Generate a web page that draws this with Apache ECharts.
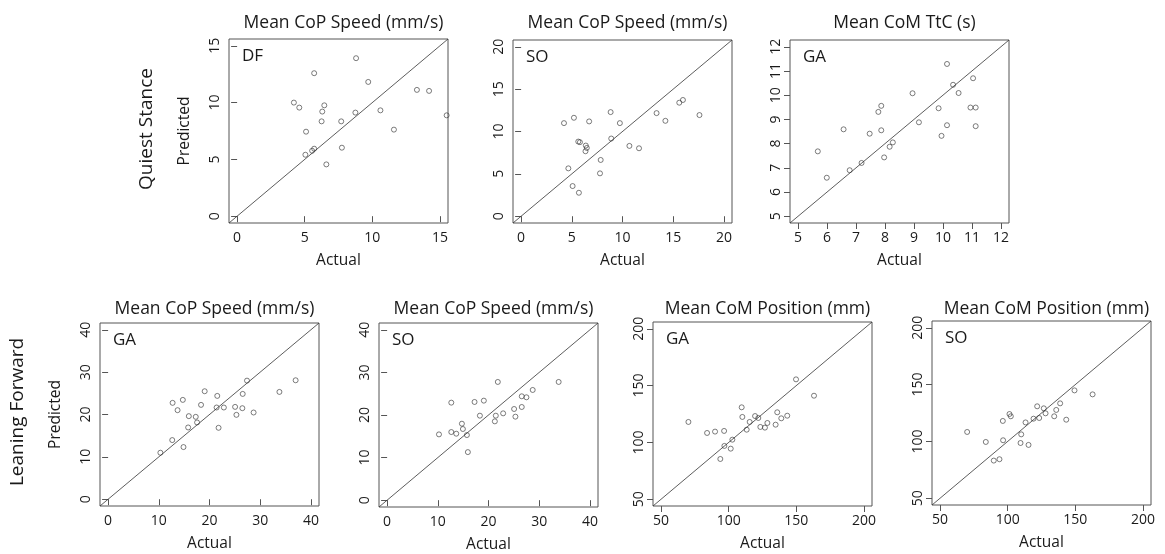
<!DOCTYPE html>
<html>
<head>
<meta charset="utf-8">
<script src="https://cdn.jsdelivr.net/npm/echarts@6/dist/echarts.min.js"></script>
<style>
html,body{margin:0;padding:0;background:#fff;}
#chart{width:1165px;height:554px;}
</style>
</head>
<body>
<div id="chart"></div>
<script>
// ---------- data ----------
// Quiet stance, DF, Mean CoP Speed (mm/s)
const dfActual = [4.2, 4.6, 5.1, 5.05, 5.55, 5.7, 5.7, 6.25, 6.3, 6.45, 6.6, 7.7, 7.75, 8.8, 8.75, 9.7, 10.6, 11.6, 13.3, 14.2, 15.5];
const dfPred   = [10.0, 9.56, 7.44, 5.41, 5.76, 5.94, 12.59, 8.35, 9.21, 9.76, 4.56, 8.35, 6.03, 13.91, 9.12, 11.82, 9.32, 7.62, 11.12, 11.03, 8.88];
// Quiet stance, SO, Mean CoP Speed (mm/s)
const soQsActual = [4.23, 4.66, 5.21, 5.08, 5.64, 5.80, 5.70, 6.38, 6.48, 6.35, 6.71, 7.85, 7.78, 8.83, 8.89, 9.74, 10.68, 11.63, 13.36, 14.23, 15.60, 15.96, 17.59];
const soQsPred   = [10.99, 5.65, 11.62, 3.56, 8.81, 8.74, 2.77, 8.34, 8.06, 7.67, 11.19, 6.64, 5.06, 12.29, 9.17, 10.99, 8.30, 8.02, 12.17, 11.26, 13.40, 13.72, 11.94];
// Quiet stance, GA, Mean CoM TtC (s)
const gaTtcActual = [5.68, 5.99, 6.57, 6.78, 7.19, 7.47, 7.77, 7.87, 7.87, 7.97, 8.16, 8.27, 8.95, 9.17, 9.85, 9.95, 10.14, 10.14, 10.35, 10.54, 10.95, 11.04, 11.13, 11.13];
const gaTtcPred   = [7.68, 6.59, 8.59, 6.90, 7.20, 8.41, 9.31, 9.56, 8.55, 7.43, 7.87, 8.05, 10.08, 8.88, 9.46, 8.32, 8.76, 11.29, 10.43, 10.09, 9.49, 10.70, 9.49, 8.72];
// Leaning forward, GA, Mean CoP Speed (mm/s)
const gaLfActual = [10.31, 12.65, 12.72, 13.70, 14.74, 14.87, 15.79, 15.92, 17.29, 17.55, 18.33, 19.05, 21.40, 21.53, 21.79, 22.83, 25.05, 25.31, 26.48, 26.55, 27.40, 28.70, 33.79, 36.99];
const gaLfPred   = [10.98, 13.96, 22.75, 21.02, 23.45, 12.31, 16.94, 19.61, 19.45, 18.12, 22.27, 25.49, 21.65, 24.39, 16.86, 21.65, 21.80, 19.92, 21.49, 24.86, 28.00, 20.47, 25.33, 28.08];
// Leaning forward, SO, Mean CoP Speed (mm/s)
const soLfActual = [10.23, 12.66, 12.66, 13.64, 14.75, 14.95, 15.74, 15.93, 17.25, 18.30, 19.08, 21.25, 21.44, 21.84, 22.89, 25.05, 25.31, 26.56, 26.56, 27.48, 28.72, 33.84];
const soLfPred   = [15.45, 22.90, 16.00, 15.61, 17.96, 16.71, 15.29, 11.29, 23.06, 19.84, 23.37, 18.51, 19.84, 27.76, 20.39, 21.41, 19.61, 21.88, 24.39, 24.16, 25.88, 27.76];
// Leaning forward, GA, Mean CoM Position (mm)
const gaComActual = [70.2, 84.0, 89.9, 96.6, 96.8, 93.8, 101.5, 102.7, 109.6, 110.1, 113.3, 115.5, 119.5, 121.9, 123.4, 126.8, 128.6, 134.7, 135.9, 138.9, 143.3, 149.8, 163.1];
const gaComPred   = [118.0, 108.3, 109.5, 110.1, 96.9, 85.4, 94.5, 102.4, 130.9, 122.4, 111.2, 118.0, 123.2, 121.5, 113.6, 113.0, 117.1, 115.6, 126.5, 121.2, 123.5, 155.5, 141.1];
// Leaning forward, SO, Mean CoM Position (mm)
const soComActual = [70.0, 83.8, 89.7, 93.9, 96.4, 96.6, 101.3, 102.3, 109.5, 110.0, 113.2, 115.4, 119.1, 121.8, 123.3, 126.7, 128.0, 134.4, 135.9, 138.8, 143.3, 149.4, 162.8];
const soComPred   = [108.3, 99.5, 83.1, 84.3, 118.0, 101.0, 124.1, 122.1, 98.6, 106.2, 116.7, 96.9, 120.0, 130.9, 120.6, 129.1, 124.7, 122.1, 127.7, 133.5, 119.1, 144.9, 141.4];

// tick labels
const ticksCop15 = [0, 5, 10, 15];
const ticksCop20 = [0, 5, 10, 15, 20];
const ticksTtc   = [5, 6, 7, 8, 9, 10, 11, 12];
const ticksCop40 = [0, 10, 20, 30, 40];
const ticksCom   = [50, 100, 150, 200];

// titles / labels
const panelTitles = ['Mean CoP Speed (mm/s)', 'Mean CoP Speed (mm/s)', 'Mean CoM TtC (s)', 'Mean CoP Speed (mm/s)', 'Mean CoP Speed (mm/s)', 'Mean CoM Position (mm)', 'Mean CoM Position (mm)'];
const panelTags = ['DF', 'SO', 'GA', 'GA', 'SO', 'GA', 'SO'];
const rowLabels = ['Quiest Stance', 'Leaning Forward'];
const xName = 'Actual';
const yName = 'Predicted';

// ---------- layout ----------
const boxes = [
  {l: 229, t: 39,  w: 219, h: 184, tt: 30},
  {l: 513, t: 40,  w: 219, h: 183, tt: 31},
  {l: 790, t: 40,  w: 219, h: 183, tt: 31},
  {l: 100, t: 323, w: 219, h: 183, tt: 28},
  {l: 379, t: 323, w: 219, h: 184, tt: 28},
  {l: 653, t: 322, w: 219, h: 184, tt: 27},
  {l: 932, t: 321, w: 219, h: 184, tt: 26}
];
const panelData = [
  [dfActual, dfPred, ticksCop15],
  [soQsActual, soQsPred, ticksCop20],
  [gaTtcActual, gaTtcPred, ticksTtc],
  [gaLfActual, gaLfPred, ticksCop40],
  [soLfActual, soLfPred, ticksCop40],
  [gaComActual, gaComPred, ticksCom],
  [soComActual, soComPred, ticksCom]
];

const FONT = '"Open Sans", "Liberation Sans", sans-serif';
const INK = '#1a1a1a';
const GRAY = '#555';

const grid = [], xAxis = [], yAxis = [], series = [], title = [];

panelData.forEach((pd, i) => {
  const [ax, pr, ticks] = pd;
  const lo = ticks[0], hi = ticks[ticks.length - 1];
  const pad = (hi - lo) * 0.04;
  const mn = lo - pad, mx = hi + pad;
  const b = boxes[i];
  grid.push({
    left: b.l, top: b.t, width: b.w, height: b.h,
    show: true, borderColor: GRAY, borderWidth: 1, backgroundColor: 'transparent',
    outerBoundsMode: 'none', containLabel: false
  });
  const axisCommon = {
    type: 'value', gridIndex: i, min: mn, max: mx,
    splitLine: {show: false},
    axisLine: {show: false},
    axisTick: {show: true, inside: false, length: 6, customValues: ticks, lineStyle: {color: GRAY, width: 1}},
    axisLabel: {customValues: ticks, color: INK, fontFamily: FONT, fontSize: 14}
  };
  xAxis.push(Object.assign({}, axisCommon, {
    position: 'bottom',
    axisLabel: Object.assign({}, axisCommon.axisLabel, {margin: 8}),
    name: xName, nameLocation: 'middle', nameGap: 30,
    nameTextStyle: {color: INK, fontFamily: FONT, fontSize: 15.5}
  }));
  const yA = Object.assign({}, axisCommon, {
    position: 'left',
    axisLabel: Object.assign({}, axisCommon.axisLabel, {rotate: 90, margin: 7})
  });
  if (i === 0 || i === 3) {
    Object.assign(yA, {
      name: yName, nameLocation: 'middle', nameGap: 36, nameRotate: 90,
      nameTextStyle: {color: INK, fontFamily: FONT, fontSize: 15.5}
    });
  }
  yAxis.push(yA);
  // identity line through the axis range
  series.push({
    type: 'line', xAxisIndex: i, yAxisIndex: i, data: [[mn, mn], [mx, mx]],
    symbol: 'none', silent: true, clip: true,
    lineStyle: {color: '#333', width: 0.8}
  });
  series.push({
    type: 'scatter', xAxisIndex: i, yAxisIndex: i, clip: true,
    data: ax.map((v, k) => [v, pr[k]]),
    symbol: 'circle', symbolSize: 5,
    itemStyle: {color: 'rgba(0,0,0,0)', borderColor: '#333', borderWidth: 0.8}
  });
  title.push({
    text: panelTitles[i], left: b.l + b.w / 2, top: b.t - b.tt, textAlign: 'center',
    textStyle: {color: INK, fontFamily: FONT, fontSize: 17.5, fontWeight: 'normal'}
  });
  title.push({
    text: panelTags[i], left: b.l + 8, top: b.t + 4,
    textStyle: {color: INK, fontFamily: FONT, fontSize: 17, fontWeight: 'normal'}
  });
});

const chart = echarts.init(document.getElementById('chart'), null, {renderer: 'canvas'});
chart.setOption({
  animation: false,
  backgroundColor: '#fff',
  title: title,
  grid: grid,
  xAxis: xAxis,
  yAxis: yAxis,
  series: series,
  graphic: [
    {type: 'text', x: 147, y: 129, rotation: Math.PI / 2,
     style: {text: rowLabels[0], fill: INK, font: '19px ' + FONT, align: 'center', verticalAlign: 'middle'}},
    {type: 'text', x: 18, y: 412, rotation: Math.PI / 2,
     style: {text: rowLabels[1], fill: INK, font: '19px ' + FONT, align: 'center', verticalAlign: 'middle'}}
  ]
});
</script>
</body>
</html>
